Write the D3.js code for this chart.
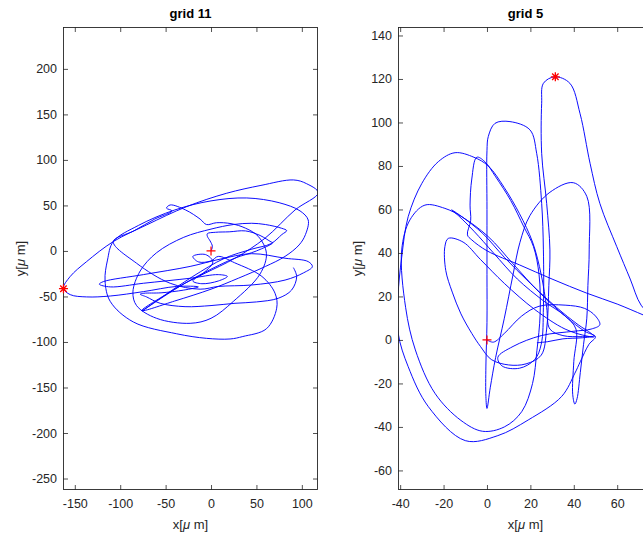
<!DOCTYPE html>
<html><head><meta charset="utf-8">
<script src="https://cdn.jsdelivr.net/npm/d3@7"></script>
<style>
body{margin:0;background:#fff}
text{font-family:"Liberation Sans",Arial,Helvetica,sans-serif}
</style>
</head><body>
<svg id="c" width="643" height="535"></svg>
<script>
// ---- data (in micrometres) ----
const titles = ["grid 11", "grid 5"];

const grid11Path = [
 [0,0],[1.5,5],[-1,11],[-4,16],[-4,19],[5,20.5],[20,21],[38,22],[54,17],[66,10],[68,9],
 [50,0],[26,-8],[0,-20],[-28,-35],[-52,-50],[-76,-66],
 [-50,-48],[-20,-28],[15,-8],[45,2],[66,8],
 [78,18],[83.3,22.3],[77.8,24.9],[60,29],[44.8,30.4],[24.6,29],[0,24],[-30,15],[-60,-2],[-78,-22],[-86,-45],[-82,-60],[-60,-74],[-23,-79.5],[0,-74],[24.6,-55.4],[54,-25.3],[61,-2.6],[52,16],[38,25],[22,30],
 [6,31],[-5,29],[-12,35],[-28,45],[-45,50.5],[-49,47],[-43,44],[-62,35],[-85,22],[-107.6,10.3],
 [-82,-13.5],[-45,-35.5],[-12,-42],[8,-39],[44.8,-37.4],[81.5,-32],[102,-24],[111.6,-17.2],[107,-11.7],[81.5,-8],[44.8,-3],[10,-9],
 [-23,-17],[-74.5,-26],[-118.6,-33.7],[-123,-36.5],[-111,-39.5],[-74.5,-35.5],[-23,-30],[8,-26],[18,-28],[8,-33],[-10,-36],
 [-20,-33],[-8,-24],[2,-12],[-6,-4],[-20,-6],[-14,-12],[0,-11],[8,-6],
 [26,-13],[56,-28],[70.5,-46.5],[72.3,-62.9],[61,-85.5],[35,-94],[21,-96.7],[-5,-96],[-37.8,-91],[-85.6,-78],[-111,-55.4],[-116.7,-32.7],[-114,-10],[-107.6,10.3],
 [-80,28],[-40,45],[0,55],[39.3,58.2],[75,53],[98,44],[107,34],[104,18],[97,6.6],[81.5,-6],[60,-17],[30,-30],[0,-42],[-40,-55],[-76.4,-65.6],
 [-50,-48],[-28.6,-35.5],[-6.6,-24.5],[26.4,-8],[59.5,14],[92.5,45],[118,64],
 [105,74],[90.7,78],[55,72],[17.3,63.4],[-26.8,48.7],[-70.9,28.6],[-107.6,10.3],[-137,-11.7],[-155,-28],[-162.5,-41],[-155,-48],[-137,-50.5],[-111,-49.5],[-74.5,-44.7],[-37.8,-39],[-14,-39.5],
 [-30,-43],[-55,-46],[-74,-46.5],[-78,-47.5],[-71,-50.5],[-56,-57.5],[-28.6,-61.2],[0,-60],[26.4,-57.5],[50,-56],[74,-52],[88.8,-42.9],[94.3,-28.2],[90.7,-18.3]
];

const grid5Path = [
 [0,0],[3,-1],[8,3],[16,11],[24,15.5],[36,16],[45,14.5],[50,11],[52,7],[48,5],[40,4],[25,2],[12,-3],[5,-8],[7,-12],[15,-13],[22,-9],[25,-2],
 [26,15],[26,41.4],[25.2,62.8],[22.9,85.8],[19.8,96.6],[10.6,100.4],[3.7,99.6],[0.6,93.5],[0,87],[0,60],[0,30],[0,8],[-0.5,-12],[-0.5,-26],[0,-31.5],
 [1.5,-22],[4,-8],[8,10],[12,30],[15.2,44.9],[19.8,57.2],[29,67.9],[39.8,72.3],[46,66],[47.1,41.4],[46.5,25],[46,10],[44.5,-2],
 [43,-15],[41.5,-27],[40.5,-29.5],[39.5,-25],[40,-10],[41,5],
 [36,11],[26,18],[14,28],[3,40],[-6,50],[-13,57],[-16.3,59.8],[-12,57],[-2,49],[8,38],[20,26],[32,15],[42,7],[48,3],[49.5,1.4],[46,1.8],[36,5],[22,14],[8,26],[-3,37],[-11,45],
 [-17.8,46.7],[-19.4,42.9],[-19,32],[-16,22],[-12,12],[-7,3],[-3,-3],[2,-9],[10,-11.5],[18,-11],[25,-7],
 [27.5,5],[28.5,25],[29,41.4],[27.5,62.8],[25.2,85.8],[25.2,108.8],[26,118],[31.3,121],[38.2,118],[42.9,104],[47.5,81.2],[52,62.8],[59.8,42.9],[66,28],[71,16],[78,9],
 [72,11.5],[60,16.5],[46,21.5],[30,28],[15,34.5],[0,41],[-7,46],[-9,48.3],
 [-7.5,55],[-7.8,62],[-7,74],[-4.7,84],[-1,82],[4,75],[11,64],[17,52],[21.4,43],[24,30],[24.5,12],[23,-5],[21,-20],[16,-33],[8,-40],[-2,-42],[-12,-37],
 [-24,-24.5],[-33,-4.6],[-37.5,15],[-39.3,41.4],[-35.5,55.2],[-28.6,62],[-19.4,60.5],[-11.7,56.7],[0.6,47.5],[12,35],[24,22],[36,11],[45,4],[50,1.5],
 [47,-2],[43,-10],[40.5,-15.3],[34.4,-26],[19,-36.8],[5,-44],[-10,-46.3],[-27,-30.7],[-36.3,-12.3],[-40.9,3],[-41,20],[-39.3,38],[-36.3,56.7],[-30,72],[-22.4,82],[-14.7,86.1],[-6,84],[0.6,80],[8,70],[15,58],[21,45],[25,30],[27.5,15],[29,5],[35,2],[44,1.5],[49,1.6],[44,1],[35,0.5],[28,-0.8],[23,-1.3]
];

const grid11Star = [-162.5, -41.5];
const grid5Star = [31.5, 121];

const grid11XTicks = [-150,-100,-50,0,50,100];
const grid11YTicks = [-250,-200,-150,-100,-50,0,50,100,150,200];
const grid5XTicks = [-40,-20,0,20,40,60];
const grid5YTicks = [-60,-40,-20,0,20,40,60,80,100,120,140];

const grid11XDomain = [-163, 117.8];
const grid11YDomain = [-262.6, 246];
const grid5XDomain = [-41, 76.5];
const grid5YDomain = [-69, 143.9];

// ---- drawing ----
const svg = d3.select("#c");
const TOP = 27, BOTTOM = 490;
const INK = "#262626";

function panel(id, title, path, star, xDom, yDom, xRange, xTicks, yTicks, ylabelX){
  const x = d3.scaleLinear().domain(xDom).range(xRange);
  const y = d3.scaleLinear().domain(yDom).range([BOTTOM, TOP]);
  const g = svg.append("g");
  const fmt = d => String(d);

  svg.append("clipPath").attr("id", "clip"+id).append("rect")
    .attr("x", xRange[0]).attr("y", TOP)
    .attr("width", xRange[1]-xRange[0]).attr("height", BOTTOM-TOP);

  // data line
  const line = d3.line().x(d => x(d[0])).y(d => y(d[1])).curve(d3.curveCatmullRom.alpha(0.5));
  g.append("path").datum(path).attr("d", line)
    .attr("fill","none").attr("stroke","#0000ff").attr("stroke-width",0.95)
    .attr("clip-path","url(#clip"+id+")");

  // axes
  const style = sel => {
    sel.select(".domain").remove();
    sel.attr("font-size", 12.5).attr("font-family", '"Liberation Sans",Arial,Helvetica,sans-serif').style("color", INK);
    sel.selectAll("line").attr("stroke-width", 0.8);
  };
  g.append("g").attr("transform",`translate(0,${BOTTOM})`)
    .call(d3.axisBottom(x).tickValues(xTicks).tickSize(-5).tickSizeOuter(0).tickPadding(9).tickFormat(fmt)).call(style);
  g.append("g").attr("transform",`translate(0,${TOP})`)
    .call(d3.axisTop(x).tickValues(xTicks).tickSize(-5).tickSizeOuter(0).tickFormat("")).call(style);
  g.append("g").attr("transform",`translate(${xRange[0]},0)`)
    .call(d3.axisLeft(y).tickValues(yTicks).tickSize(-5).tickSizeOuter(0).tickPadding(6).tickFormat(fmt)).call(style);
  g.append("g").attr("transform",`translate(${xRange[1]},0)`)
    .call(d3.axisRight(y).tickValues(yTicks).tickSize(-5).tickSizeOuter(0).tickFormat("")).call(style);

  g.append("rect").attr("x", xRange[0]+0.5).attr("y", TOP+0.5)
    .attr("width", xRange[1]-xRange[0]-1).attr("height", BOTTOM-TOP-1)
    .attr("fill","none").attr("stroke", INK).attr("stroke-width", 0.9);

  // markers (start '+', and '*')
  const s = 4.5;
  const p0 = path[0];
  g.append("path")
    .attr("d", `M${x(p0[0])-s},${y(p0[1])}h${2*s}M${x(p0[0])},${y(p0[1])-s}v${2*s}`)
    .attr("stroke","#ff0000").attr("stroke-width",1.2).attr("fill","none");
  const sx = x(star[0]), sy = y(star[1]), d = s*0.72;
  g.append("path")
    .attr("d", `M${sx-s},${sy}h${2*s}M${sx},${sy-s}v${2*s}M${sx-d},${sy-d}L${sx+d},${sy+d}M${sx-d},${sy+d}L${sx+d},${sy-d}`)
    .attr("stroke","#ff0000").attr("stroke-width",1.3).attr("fill","none");

  const cx = (xRange[0]+xRange[1])/2;
  g.append("text").attr("x", cx).attr("y", 18).attr("text-anchor","middle")
    .attr("font-size", 13).attr("font-weight","bold").attr("fill","#000").text(title);

  const xl = g.append("text").attr("x", cx).attr("y", 529).attr("text-anchor","middle")
    .attr("font-size", 13).attr("fill", INK);
  xl.append("tspan").text("x[");
  xl.append("tspan").attr("font-style","italic").text("\u03bc");
  xl.append("tspan").text(" m]");

  const yl = g.append("text").attr("transform",`translate(${ylabelX},${(TOP+BOTTOM)/2}) rotate(-90)`)
    .attr("text-anchor","middle").attr("font-size", 13).attr("fill", INK);
  yl.append("tspan").text("y[");
  yl.append("tspan").attr("font-style","italic").text("\u03bc");
  yl.append("tspan").text(" m]");
}

panel("L", titles[0], grid11Path, grid11Star, grid11XDomain, grid11YDomain, [63, 318], grid11XTicks, grid11YTicks, 25);
panel("R", titles[1], grid5Path, grid5Star, grid5XDomain, grid5YDomain, [398, 653], grid5XTicks, grid5YTicks, 362);
</script>
</body></html>
